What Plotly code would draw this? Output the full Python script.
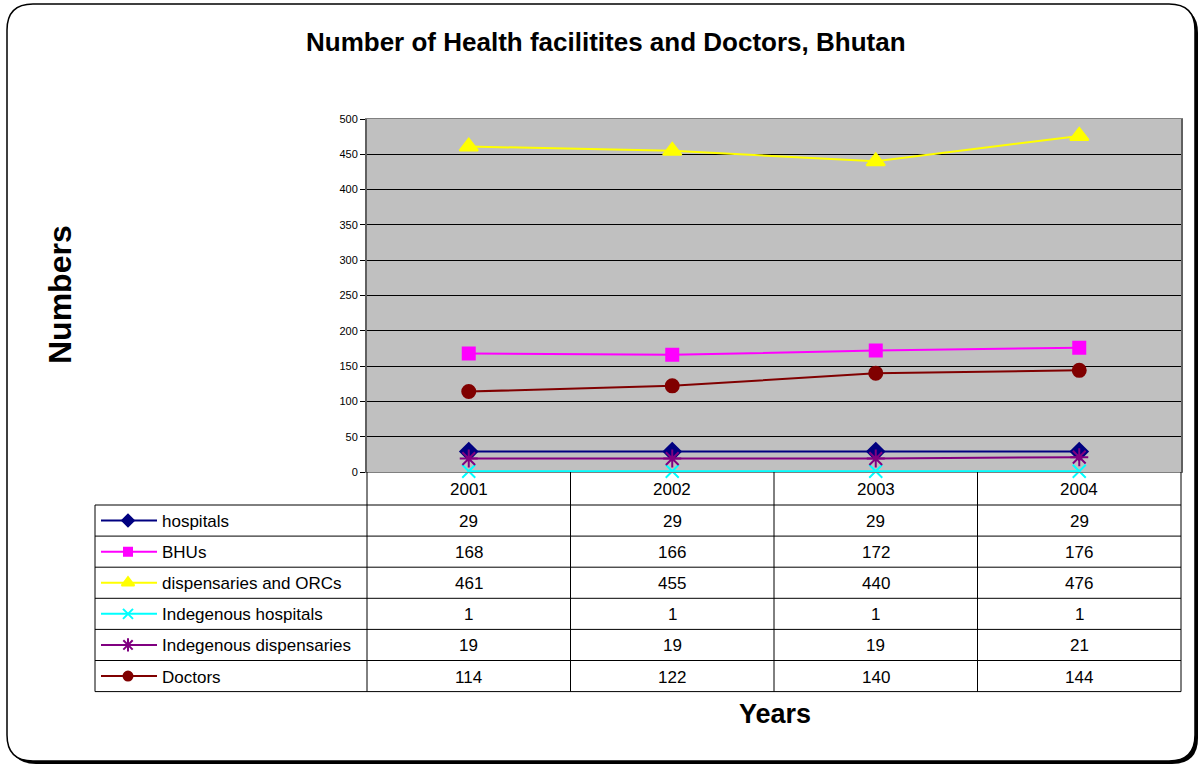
import plotly.graph_objects as go

# data
years = ["2001", "2002", "2003", "2004"]
series_names = ["hospitals", "BHUs", "dispensaries and ORCs",
                "Indegenous hospitals", "Indegenous dispensaries", "Doctors"]
hospitals = [29, 29, 29, 29]
bhus = [168, 166, 172, 176]
dispensaries = [461, 455, 440, 476]
indig_hospitals = [1, 1, 1, 1]
indig_dispensaries = [19, 19, 19, 21]
doctors = [114, 122, 140, 144]
y_ticks = [0, 50, 100, 150, 200, 250, 300, 350, 400, 450, 500]

series_values = [hospitals, bhus, dispensaries, indig_hospitals, indig_dispensaries, doctors]
colors = ["#000080", "#FF00FF", "#FFFF00", "#00FFFF", "#800080", "#800000"]
symbols = ["diamond", "square", "triangle-up", "x-thin-open", "asterisk-open", "circle"]
plot_sizes = [13, 12, 16, 13, 15, 13]
key_sizes = [9, 8, 11, 10, 11, 9]

W, H = 1199, 766
FONT = "Liberation Sans, Arial, sans-serif"

# pixel geometry
px_left, px_right, px_top, px_bottom = 367, 1181, 119, 472
tbl_left = 95
header_bottom = 505
row_h = 31.1


def px(x):
    return x / W


def py(y):
    return 1 - y / H


fig = go.Figure()

# main plot series
for name, vals, c, sym, sz in zip(series_names, series_values, colors, symbols, plot_sizes):
    fig.add_trace(go.Scatter(
        x=years, y=vals, name=name, mode="lines+markers",
        line=dict(color=c, width=2),
        marker=dict(symbol=sym, size=sz, color=c, line=dict(color=c, width=2)),
        cliponaxis=False,
    ))

# legend keys in table (overlay pixel axes)
for i, (c, sym, sz) in enumerate(zip(colors, symbols, key_sizes)):
    yc = header_bottom + row_h * (i + 0.5)
    fig.add_trace(go.Scatter(
        x=[101, 128, 157], y=[yc, yc, yc], xaxis="x2", yaxis="y2",
        mode="lines", line=dict(color=c, width=2), hoverinfo="skip", cliponaxis=False,
    ))
    fig.add_trace(go.Scatter(
        x=[128], y=[yc], xaxis="x2", yaxis="y2", mode="markers",
        marker=dict(symbol=sym, size=sz, color=c, line=dict(color=c, width=2)),
        hoverinfo="skip", cliponaxis=False,
    ))


def rounded(x0, y0, x1, y1, r):
    # rounded rectangle path in paper coordinates (input in pixels)
    pts = [
        ("M", [(x0 + r, y0)]), ("L", [(x1 - r, y0)]), ("Q", [(x1, y0), (x1, y0 + r)]),
        ("L", [(x1, y1 - r)]), ("Q", [(x1, y1), (x1 - r, y1)]), ("L", [(x0 + r, y1)]),
        ("Q", [(x0, y1), (x0, y1 - r)]), ("L", [(x0, y0 + r)]), ("Q", [(x0, y0), (x0 + r, y0)]),
    ]
    s = ""
    for cmd, ps in pts:
        s += cmd + " " + " ".join(f"{px(a):.5f},{py(b):.5f}" for a, b in ps) + " "
    return s + "Z"


shapes = []
# rounded outer frame with shadow
shapes.append(dict(type="path", path=rounded(10, 7, 1198, 764, 26), xref="paper", yref="paper",
                   fillcolor="black", line=dict(width=0), layer="below"))
shapes.append(dict(type="path", path=rounded(7, 4, 1195, 761, 26), xref="paper", yref="paper",
                   fillcolor="white", line=dict(color="black", width=1.5), layer="below"))
# grey plot area
shapes.append(dict(type="rect", xref="x domain", yref="y domain", x0=0, x1=1, y0=0, y1=1,
                   fillcolor="#C0C0C0", line=dict(width=0), layer="below"))

# table lines
col_edges = [px_left + (px_right - px_left) * k / len(years) for k in range(len(years) + 1)]
n_rows = len(series_names)
table_bottom = header_bottom + row_h * n_rows
for xe in col_edges:
    shapes.append(dict(type="line", xref="x2", yref="y2", x0=xe, x1=xe, y0=px_bottom, y1=table_bottom,
                       line=dict(color="black", width=1)))
shapes.append(dict(type="line", xref="x2", yref="y2", x0=tbl_left, x1=tbl_left, y0=header_bottom,
                   y1=table_bottom, line=dict(color="black", width=1)))
for k in range(n_rows + 1):
    yl = header_bottom + row_h * k
    shapes.append(dict(type="line", xref="x2", yref="y2", x0=tbl_left, x1=px_right, y0=yl, y1=yl,
                       line=dict(color="black", width=1)))

annotations = []
tfont = dict(size=17, color="black", family=FONT)
for j, yr in enumerate(years):
    annotations.append(dict(x=j, y=(px_bottom + header_bottom) / 2 + 1, xref="x", yref="y2",
                            text=yr, showarrow=False, font=tfont))
for i, (name, vals) in enumerate(zip(series_names, series_values)):
    yc = header_bottom + row_h * (i + 0.5) + 1
    annotations.append(dict(x=160, y=yc, xref="x2", yref="y2", text=name, showarrow=False,
                            xanchor="left", font=tfont))
    for j, v in enumerate(vals):
        annotations.append(dict(x=j, y=yc, xref="x", yref="y2", text=str(v), showarrow=False,
                                font=tfont))

annotations += [
    dict(x=606, y=42, xref="x2", yref="y2", showarrow=False,
         text="<b>Number of Health facilitites and Doctors, Bhutan</b>",
         font=dict(size=26, color="black", family=FONT)),
    dict(x=60, y=295, xref="x2", yref="y2", showarrow=False, textangle=-90,
         text="<b>Numbers</b>", font=dict(size=32, color="black", family=FONT)),
    dict(x=775, y=714, xref="x2", yref="y2", showarrow=False,
         text="<b>Years</b>", font=dict(size=27, color="black", family=FONT)),
]

fig.update_layout(
    width=W, height=H,
    margin=dict(l=0, r=0, t=0, b=0, pad=0, autoexpand=False),
    paper_bgcolor="white",
    plot_bgcolor="rgba(0,0,0,0)",
    showlegend=False,
    shapes=shapes,
    annotations=annotations,
    xaxis=dict(
        type="category", range=[-0.5, len(years) - 0.5],
        domain=[px(px_left), px(px_right)], automargin=False,
        showticklabels=False, showgrid=False, ticks="",
        showline=True, linecolor="#808080", linewidth=1, mirror=True,
        zeroline=False,
    ),
    yaxis=dict(
        range=[0, 500], tickvals=y_ticks, automargin=False,
        domain=[py(px_bottom), py(px_top)],
        showgrid=True, gridcolor="black", gridwidth=1,
        zeroline=True, zerolinecolor="black", zerolinewidth=2,
        showline=True, linecolor="#606060", linewidth=2, mirror=True,
        ticks="outside", ticklen=5, tickcolor="black",
        tickfont=dict(size=11, color="black", family=FONT),
    ),
    xaxis2=dict(range=[0, W], domain=[0, 1], visible=False, anchor="y2", automargin=False),
    yaxis2=dict(range=[H, 0], domain=[0, 1], visible=False, anchor="x2", automargin=False),
)

page_css = ("document.documentElement.style.margin='0';"
            "document.documentElement.style.overflow='hidden';"
            "document.body.style.margin='0';"
            "document.body.style.padding='0';"
            "document.body.style.overflow='hidden';")

fig.write_html("out.html", config={"displayModeBar": False}, post_script=page_css)
